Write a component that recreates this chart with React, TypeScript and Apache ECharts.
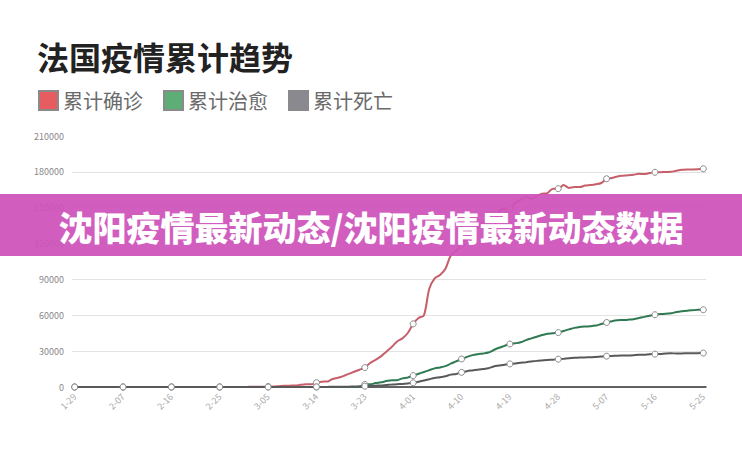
import React, { useEffect, useRef } from "react";
import * as echarts from "echarts";

const TITLE = "法国疫情累计趋势";
const BANNER = "沈阳疫情最新动态/沈阳疫情最新动态数据";
const SERIES_NAMES = ["累计确诊", "累计治愈", "累计死亡"];
const LINE_COLORS = ["#c65f6a", "#2f7a52", "#595959"];
const LEGEND_COLORS = ["#e65c60", "#5cae76", "#8a898f"];

// month / first day / number of days shown
const MONTHS: [number, number, number][] = [
  [1, 29, 3],
  [2, 1, 29],
  [3, 1, 31],
  [4, 1, 30],
  [5, 1, 25],
];
const categories: string[] = [];
MONTHS.forEach(([m, d0, n]) => {
  for (let k = 0; k < n; k++) {
    const d = d0 + k;
    categories.push(`${m}-${d < 10 ? "0" + d : d}`);
  }
});

const confirmedJan = [4, 5, 5];
const confirmedFeb = [
  5, 6, 6, 6, 6, 6, 6, 6, 11, 11, 11, 11, 11, 11, 11, 12, 12, 12, 12, 12, 12, 12, 12, 12, 12, 14, 18, 38, 57,
];
const confirmedMar = [
  100, 130, 191, 204, 288, 380, 656, 957, 1136, 1219, 1794, 2293, 2293, 3681, 4496, 4532, 6683, 7715, 9124,
  10970, 12758, 14463, 16243, 20123, 22622, 25600, 29551, 33402, 38105, 40708, 45170,
];
const confirmedApr = [
  52827, 57749, 59929, 82165, 90848, 93790, 98963, 110065, 113959, 118781, 125931, 130727, 133670, 137877,
  131361, 134582, 147091, 149130, 149149, 154188, 156480, 159297, 157125, 159952, 161644, 162220, 165963,
  165963, 169053, 166543,
];
const confirmedMay = [
  167299, 167305, 168518, 168925, 169583, 170687, 174224, 174918, 176202, 176782, 177094, 177547, 178349,
  178184, 178994, 179630, 179693, 179927, 180051, 180933, 181700, 181951, 182036, 182219, 182584,
];

const curedJan = [0, 0, 0];
const curedFeb = [
  0, 0, 0, 0, 0, 0, 0, 0, 0, 0, 0, 0, 2, 2, 2, 4, 4, 4, 4, 4, 4, 4, 4, 4, 4, 11, 11, 11, 11,
];
const curedMar = [
  12, 12, 12, 12, 12, 12, 12, 12, 12, 12, 12, 12, 12, 12, 12, 12, 12, 12, 12, 12, 12, 12, 2200, 2207, 3281,
  3900, 4955, 5707, 5724, 7226, 7964,
];
const curedApr = [
  9513, 11053, 12548, 14135, 15572, 16349, 17428, 19523, 21452, 23413, 25195, 26663, 27469, 28001, 28805,
  30955, 32812, 34420, 35983, 36578, 37409, 39181, 40657, 42088, 43493, 44594, 44921, 45513, 46886, 48228,
];
const curedMay = [
  49476, 50212, 50562, 50784, 51371, 52736, 53972, 55027, 55782, 56038, 56327, 56724, 57785, 58673, 59605,
  60448, 61066, 61213, 61728, 62678, 63354, 63858, 64209, 64547, 64617,
];

const deathsJan = [0, 0, 0];
const deathsFeb = [
  0, 0, 0, 0, 0, 0, 0, 0, 0, 0, 0, 0, 0, 0, 0, 1, 1, 1, 1, 1, 1, 1, 1, 1, 1, 1, 2, 2, 2,
];
const deathsMar = [
  2, 2, 3, 4, 4, 6, 9, 11, 19, 19, 33, 48, 48, 79, 91, 91, 148, 148, 148, 243, 450, 562, 674, 860, 1100,
  1331, 1696, 1995, 2314, 2606, 3024,
];
const deathsApr = [
  3532, 4414, 5398, 6520, 7574, 8093, 8926, 10343, 10887, 12228, 13215, 13851, 14412, 14986, 15712, 17167,
  17920, 18681, 19323, 19718, 20265, 20796, 21340, 21856, 22245, 22614, 22856, 23293, 23660, 24087,
];
const deathsMay = [
  24376, 24594, 24760, 24895, 25201, 25531, 25809, 25987, 26230, 26310, 26380, 26643, 26991, 27074, 27425,
  27529, 27625, 28111, 28239, 28022, 28132, 28215, 28289, 28332, 28370,
];

const confirmed = [...confirmedJan, ...confirmedFeb, ...confirmedMar, ...confirmedApr, ...confirmedMay];
const cured = [...curedJan, ...curedFeb, ...curedMar, ...curedApr, ...curedMay];
const deaths = [...deathsJan, ...deathsFeb, ...deathsMar, ...deathsApr, ...deathsMay];

const Y_MIN = 0;
const Y_MAX = 210000;
const Y_STEP = 30000;
const LABEL_EVERY = 9;

const FONT = "'Noto Sans CJK SC', 'Noto Sans', sans-serif";

export default function App() {
  const ref = useRef<HTMLDivElement>(null);
  useEffect(() => {
    document.body.style.margin = "0";
    if (!ref.current) return;
    const chart = echarts.init(ref.current, null, { renderer: "svg" });
    const values = [confirmed, cured, deaths];
    chart.setOption({
      animation: false,
      backgroundColor: "#ffffff",
      textStyle: { fontFamily: FONT },
      title: {
        text: TITLE,
        left: 32,
        top: 35,
        textStyle: { fontSize: 32, fontWeight: "bold", color: "#222", fontFamily: FONT },
      },
      legend: {
        left: 33,
        top: 85,
        icon: "rect",
        itemWidth: 19,
        itemHeight: 19,
        itemGap: 20,
        textStyle: { fontSize: 20, color: "#6a6a6a", fontFamily: FONT },
        data: SERIES_NAMES.map((n, i) => ({ name: n, itemStyle: { color: LEGEND_COLORS[i] } })),
      },
      grid: { left: 72, right: 36, top: 136, bottom: 63 },
      xAxis: {
        type: "category",
        data: categories,
        boundaryGap: true,
        axisLine: { lineStyle: { color: "#333", width: 1.5 } },
        axisTick: { show: false },
        axisLabel: { interval: LABEL_EVERY - 1, rotate: 45, fontSize: 9, color: "#aaa", margin: 8 },
      },
      yAxis: {
        type: "value",
        min: Y_MIN,
        max: Y_MAX,
        interval: Y_STEP,
        axisLine: { show: false },
        axisTick: { show: false },
        axisLabel: { fontSize: 9, color: "#888", margin: 8, formatter: (v: number) => String(v) },
        splitLine: { showMaxLine: false, lineStyle: { color: "#e3e3e3", width: 1 } },
      },
      series: SERIES_NAMES.map((name, i) => ({
        name,
        type: "line",
        data: values[i],
        smooth: 0.3,
        showAllSymbol: true,
        symbol: (_v: any, p: any) => (p.dataIndex % LABEL_EVERY === 0 ? "circle" : "none"),
        symbolSize: 6,
        itemStyle: { color: "#fff", borderColor: "#8a8a8a", borderWidth: 1 },
        lineStyle: { color: LINE_COLORS[i], width: 2 },
        z: 2 + i,
      })),
      graphic: [
        {
          type: "rect",
          z: 100,
          shape: { x: 0, y: 194, width: 742, height: 62 },
          style: { fill: "rgba(205, 82, 186, 0.93)" },
        },
        {
          type: "text",
          z: 101,
          x: 371,
          y: 226,
          style: {
            text: BANNER,
            fill: "#ffffff",
            font: `900 34px ${FONT}`,
            textAlign: "center",
            textVerticalAlign: "middle",
          },
        },
      ],
    });
    return () => chart.dispose();
  }, []);
  return <div ref={ref} style={{ width: 742, height: 450 }} />;
}
